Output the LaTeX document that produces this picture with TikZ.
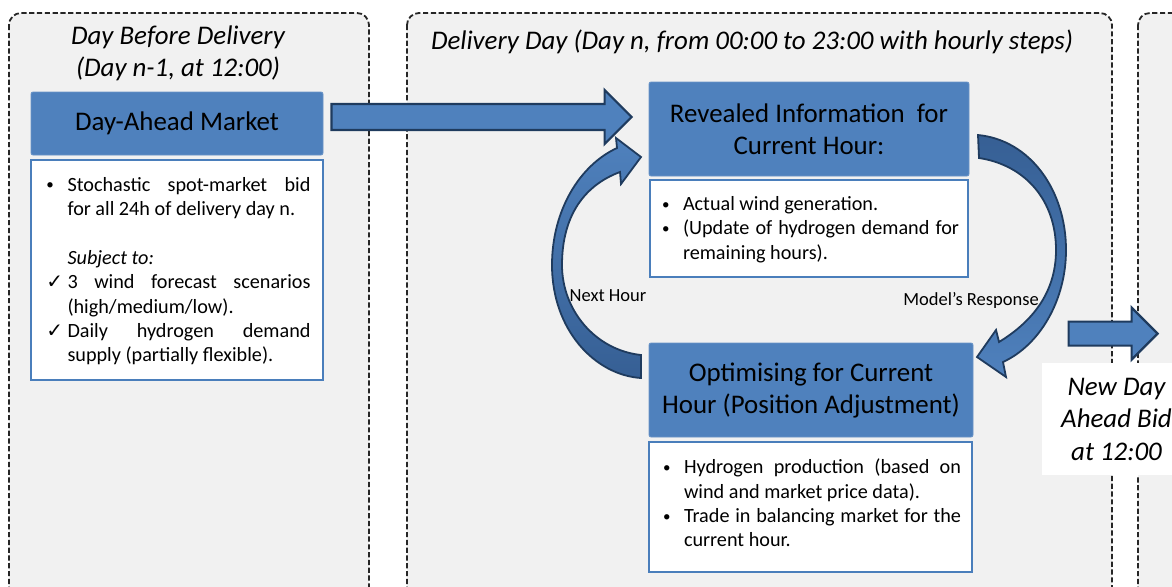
\documentclass[tikz,border=0pt]{standalone}
\usepackage{fontspec}
\setmainfont{Carlito}
\newfontfamily\symfont{DejaVu Sans}
\usetikzlibrary{calc}

\definecolor{hdrblue}{HTML}{4F81BD}
\definecolor{boxblue}{HTML}{4A7EBB}
\definecolor{arrowedge}{HTML}{1F3B5E}
\definecolor{arrowdark}{HTML}{365F94}
\definecolor{panelgray}{HTML}{F1F1F1}

\newcommand{\hdrfont}{\fontsize{13.45pt}{16pt}\selectfont}
\newcommand{\txtfont}{\fontsize{10.1pt}{12.2pt}\selectfont}
\newcommand{\lblfont}{\fontsize{9.25pt}{11pt}\selectfont}

% list lines with a hanging indent
\newcommand{\itemline}[2]{\par\noindent\hangindent=12pt\hangafter=1%
  \makebox[12pt][l]{\hspace{1.5pt}#1}#2}
\newcommand{\bul}{\raisebox{0.6pt}{\fontsize{7.5pt}{7.5pt}\selectfont\textbullet}}
\newcommand{\tick}{{\symfont\fontsize{10pt}{10pt}\selectfont ✓}}

% straight block arrow, #1 start, #2 tip (x only), sizes in px
\newcommand{\blockarrow}[5]{%
  \draw[blockarr] let \p1=(#1), \p2=(#2) in
    (\x1,\y1+#3*0.5pt) -- (\x2-#5*0.5pt,\y1+#3*0.5pt) -- (\x2-#5*0.5pt,\y1+#4*0.5pt)
    -- (\x2,\y1) -- (\x2-#5*0.5pt,\y1-#4*0.5pt) -- (\x2-#5*0.5pt,\y1-#3*0.5pt)
    -- (\x1,\y1-#3*0.5pt) -- cycle;}

\begin{document}
\begin{tikzpicture}[x=0.5pt,y=-0.5pt,
  panel/.style={draw=black!85,fill=panelgray,line width=0.9pt,
    dash pattern=on 2.6pt off 1.3pt,rounded corners=6pt},
  title/.style={font=\hdrfont\itshape,align=center,inner sep=0pt},
  header/.style={fill=hdrblue,draw=hdrblue!85!white,rounded corners=1pt,
    inner sep=0pt,font=\hdrfont,align=center},
  body/.style={fill=white,draw=boxblue,line width=1.3pt,inner sep=0pt,
    font=\txtfont},
  blockarr/.style={fill=hdrblue,draw=arrowedge,line width=1.1pt},
  bentarr/.style={draw=arrowedge,line width=0.9pt},
  lbl/.style={font=\lblfont,inner sep=0pt}
]
\useasboundingbox (0,0) rectangle (1172,586);
\clip (0,0) rectangle (1172,586);
\fill[white] (0,0) rectangle (1172,586);

% time frames
\draw[panel] (9,13) rectangle (369,600);
\draw[panel] (407,13) rectangle (1112,600);
\draw[panel] (1138,13) rectangle (1300,600);

\node[title] (daybefore) at (178,53) {Day Before Delivery\\(Day n-1, at 12:00)};
\node[title] (deliveryday) at (752,42)
  {Delivery Day (Day n, from 00:00 to 23:00 with hourly steps)};

% day-ahead bid
\node[header,minimum width=146pt,minimum height=31.5pt] (dahead) at (177,123.5)
  {Day-Ahead Market};
\node[body,minimum width=146pt,minimum height=110pt] (dabody) at (177,270)
  {\parbox[c][97pt][t]{133.5pt}{\vspace*{2pt}%
    \itemline{\bul}{Stochastic spot-market bid\linebreak for all 24h of delivery day n.}
    \par\vspace{12.2pt}
    \noindent\hspace*{12pt}\textit{Subject to:}
    \itemline{\tick}{3 wind forecast scenarios\linebreak (high/medium/low).}
    \itemline{\tick}{Daily hydrogen demand\linebreak supply (partially flexible).}}};

% hourly loop
\node[header,minimum width=160pt,minimum height=47pt] (revhead) at (809,129)
  {Revealed Information~ for\\Current Hour:};
\node[body,minimum width=159pt,minimum height=48.5pt] (revbody) at (809,228.5)
  {\parbox[c][35pt][t]{150pt}{\vspace*{1.5pt}%
    \itemline{\bul}{Actual wind generation.}
    \itemline{\bul}{(Update of hydrogen demand for\linebreak remaining hours).}}};

\node[header,minimum width=162pt,minimum height=47pt] (opthead) at (811,390)
  {Optimising for Current\\Hour (Position Adjustment)};
\node[body,minimum width=161.5pt,minimum height=65pt] (optbody) at (810.5,507)
  {\parbox[c][51pt][t]{150.5pt}{\vspace*{1.5pt}%
    \itemline{\bul}{Hydrogen production (based on\linebreak wind and market price data).}
    \itemline{\bul}{Trade in balancing market for the\linebreak current hour.}}};

\coordinate (bidout) at ($(dahead.east)+(8,-6.5)$);
\coordinate (bidin) at ($(revhead.west)+(-17,0)$);
\blockarrow{bidout}{bidin}{13}{27}{27}

% curved arrows between the two steps
\draw[bentarr,top color=hdrblue,bottom color=arrowdark]
  (641,378) .. controls (595,375) and (552,330) .. (552,265)
  .. controls (552,210) and (580,165) .. (617,148)
  -- (616,138) -- (641,157) -- (621,184) -- (620,172)
  .. controls (585,185) and (562,215) .. (562,265)
  .. controls (562,310) and (595,350) .. (641,355) -- cycle;
\draw[bentarr,top color=arrowdark,bottom color=hdrblue]
  (978,135) .. controls (1030,140) and (1066,190) .. (1066,250)
  .. controls (1066,300) and (1040,345) .. (1003,362)
  -- (1006,377) -- (977,357) -- (996,330) -- (999,342)
  .. controls (1035,320) and (1056,290) .. (1056,250)
  .. controls (1056,200) and (1025,165) .. (979,158) -- cycle;

\node[lbl] (nexthour) at (608,296) {Next Hour};
\node[lbl] (response) at (971,300) {Model’s Response};

% next day
\node[fill=white,minimum width=74.5pt,minimum height=56pt,inner sep=0pt,
  font=\fontsize{13.45pt}{16.25pt}\selectfont\itshape,align=center]
  (nextbid) at (1116.5,419) {New Day\\Ahead Bid\\at 12:00};
\coordinate (nbout) at ($(nextbid.north west)+(27,-29)$);
\coordinate (nbin) at ($(nextbid.north west)+(116,-29)$);
\blockarrow{nbout}{nbin}{12}{26}{26}
\end{tikzpicture}
\end{document}
